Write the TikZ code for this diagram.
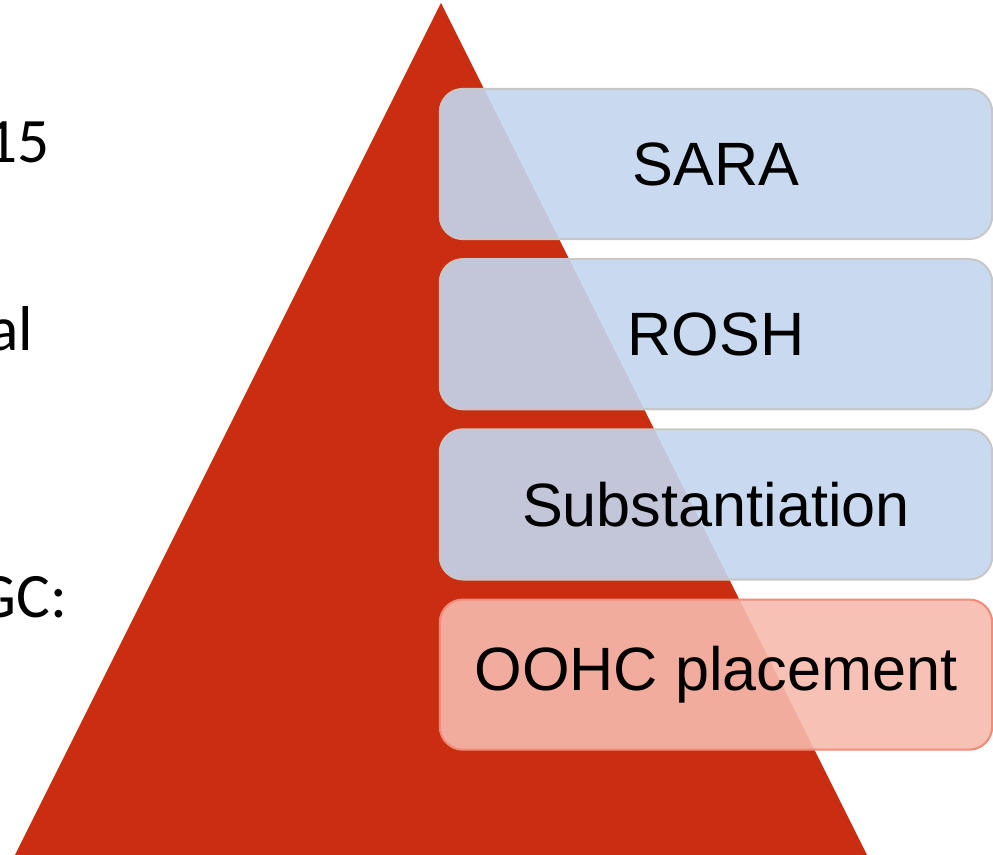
\documentclass[tikz,border=0pt]{standalone}
\usepackage{fontspec}
\setmainfont{Carlito}
\newfontfamily\arialfont{Liberation Sans}
\usetikzlibrary{positioning}
\definecolor{pyramidred}{RGB}{203,45,16}
\definecolor{levelblue}{RGB}{195,214,238}
\definecolor{levelgray}{RGB}{200,200,200}
\definecolor{levelpink}{RGB}{247,186,173}
\definecolor{pinkline}{RGB}{240,140,122}
\begin{document}
\begin{tikzpicture}[x=0.01cm, y=-0.01cm, line join=round, font=\fontsize{18}{22}\selectfont]
	\tikzset{level/.style={draw=levelgray, fill=levelblue, fill opacity=0.9, text opacity=1, rounded corners=0.23cm, line width=0.6pt, minimum width=5.52cm, minimum height=1.5cm, inner sep=0pt, font=\arialfont\fontsize{17.4}{21}\selectfont}}
	\tikzset{cut text/.style={anchor=base east, inner sep=0pt}}
	\useasboundingbox (0,0) rectangle (993,855);
	\fill[pyramidred] (441,3) -- (14,857) -- (868,857) -- cycle;
	\node[level] (sara) at (716,164) {SARA};
	\node[level, below=0.18cm of sara] (rosh) {ROSH};
	\node[level, below=0.18cm of rosh] (subst) {Substantiation};
	\node[level, below=0.18cm of subst, draw=pinkline, fill=levelpink] (oohc) {OOHC placement};
	\node[cut text] (t15) at (50,163) {15};
	\node[cut text] (tal) at (34,351) {al};
	\node[cut text] (tgc) at (68,618) {GC:};
\end{tikzpicture}
\end{document}
